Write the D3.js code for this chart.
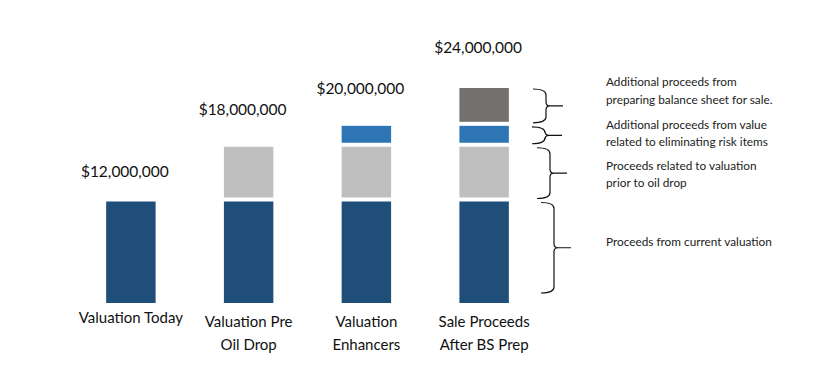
<!DOCTYPE html>
<html>
<head>
<meta charset="utf-8">
<script src="https://cdn.jsdelivr.net/npm/d3@7"></script>
<style>
  body { margin: 0; background: #fff; }
  svg { display: block; font-family: Lato, "Liberation Sans", sans-serif; }
  .cat, .total { font-size: 15.5px; fill: #111; }
  .cat { font-size: 15px; }
  .note { font-size: 11.8px; fill: #222; }
  .brace { fill: none; stroke: #111; stroke-width: 1.2; }
</style>
</head>
<body>
<svg id="grafico" width="830" height="375"></svg>
<script>
// categorias (com quebra de linha)
const categorias = ["Valuation Today", "Valuation Pre Oil Drop", "Valuation Enhancers", "Sale Proceeds After BS Prep"];
const linhasCategoria = [["Valuation Today"], ["Valuation Pre", "Oil Drop"], ["Valuation", "Enhancers"], ["Sale Proceeds", "After BS Prep"]];

// valores em milhões de dólares, por camada
const atual       = [12, 12, 12, 12];
const preOleo     = [0, 6, 6, 6];
const riscos      = [0, 0, 2, 2];
const balanco     = [0, 0, 0, 4];

const camadas = [
    { chave: "atual",   valores: atual,   cor: "#1F4E79" },
    { chave: "preOleo", valores: preOleo, cor: "#BFBFBF" },
    { chave: "riscos",  valores: riscos,  cor: "#2E75B6" },
    { chave: "balanco", valores: balanco, cor: "#767171" },
];

// notas explicativas, de cima para baixo
const notas = [
    ["Additional proceeds from", "preparing balance sheet for sale."],
    ["Additional proceeds from value", "related to eliminating risk items"],
    ["Proceeds related to valuation", "prior to oil drop"],
    ["Proceeds from current valuation"],
];

const width = 830, height = 375;
const gap = 4;          // espaço branco entre segmentos
const svg = d3.select("#grafico");

const x = d3.scaleBand()
    .domain(categorias)
    .range([72, 543])
    .paddingInner(0.58)
    .paddingOuter(0.29);

const y = d3.scaleLinear()
    .domain([0, 24])
    .range([303, 100]);

// escala só para os rótulos de total (ficam mais altos que as barras)
const yRotulo = d3.scaleLinear()
    .domain([0, 24])
    .range([300, 53]);

const fmt = v => "$" + d3.format(",")(v * 1e6);

// monta segmentos empilhados
const segmentos = [];
categorias.forEach((c, i) => {
    let acum = 0, nivel = 0;
    camadas.forEach(cam => {
        const v = cam.valores[i];
        if (v > 0) {
            segmentos.push({ cat: c, i, y0: acum, y1: acum + v, nivel, cor: cam.cor, chave: cam.chave });
            acum += v;
            nivel++;
        }
    });
});

svg.selectAll(".seg")
    .data(segmentos)
    .join("rect")
    .attr("class", "seg")
    .attr("x", d => x(d.cat))
    .attr("width", x.bandwidth())
    .attr("y", d => y(d.y1) - d.nivel * gap)
    .attr("height", d => y(d.y0) - y(d.y1))
    .attr("fill", d => d.cor);

// totais
const totais = categorias.map((c, i) => d3.sum(camadas, cam => cam.valores[i]));

svg.selectAll(".total")
    .data(categorias)
    .join("text")
    .attr("class", "total")
    .attr("x", d => x(d) + x.bandwidth() / 2 - 6)
    .attr("y", (d, i) => yRotulo(totais[i]))
    .attr("text-anchor", "middle")
    .text((d, i) => fmt(totais[i]));

// rótulos das categorias
svg.selectAll(".cat")
    .data(categorias)
    .join("text")
    .attr("class", "cat")
    .attr("text-anchor", "middle")
    .attr("transform", d => `translate(${x(d) + x.bandwidth() / 2},${d === categorias[0] ? 323 : 327})`)
    .selectAll("tspan")
    .data((d, i) => linhasCategoria[i])
    .join("tspan")
    .attr("x", 0)
    .attr("dy", (d, j) => j === 0 ? 0 : 23)
    .text(d => d);

// chaves à direita da última barra
const ultima = categorias[categorias.length - 1];
const segUltima = segmentos.filter(s => s.cat === ultima).reverse();

function chave(x0, y0, y1) {
    const w = 13, r = 6, m = (y0 + y1) / 2, ponta = 17;
    return `M${x0},${y0} Q${x0 + w},${y0} ${x0 + w},${y0 + r} V${m - 4} Q${x0 + w},${m} ${x0 + w + 4},${m} H${x0 + w + ponta}`
         + ` M${x0 + w + 4},${m} Q${x0 + w},${m} ${x0 + w},${m + 4} V${y1 - r} Q${x0 + w},${y1} ${x0},${y1}`;
}

const bx = [533, 532, 537, 541];
svg.selectAll(".brace")
    .data(segUltima)
    .join("path")
    .attr("class", "brace")
    .attr("d", (d, k) => {
        const topo = y(d.y1) - d.nivel * gap;
        const base = y(d.y0) - d.nivel * gap;
        const fundo = d.nivel === 0 ? base - 10 : base;
        return chave(bx[k], topo + 1, d.nivel === 0 ? fundo : fundo + 1);
    });

// notas (deslocamento vertical fino de cada bloco)
const ajusteNota = [-14, -1, 2, -10];
svg.selectAll(".note")
    .data(segUltima)
    .join("text")
    .attr("class", "note")
    .attr("transform", (d, k) => {
        const topo = y(d.y1) - d.nivel * gap;
        const base = y(d.y0) - d.nivel * gap;
        const m = (topo + base) / 2;
        const n = notas[k].length;
        return `translate(606,${m - (n - 1) * 8.5 + 4 + ajusteNota[k]})`;
    })
    .selectAll("tspan")
    .data((d, k) => notas[k])
    .join("tspan")
    .attr("x", 0)
    .attr("dy", (d, j) => j === 0 ? 0 : 17.5)
    .text(d => d);
</script>
</body>
</html>
